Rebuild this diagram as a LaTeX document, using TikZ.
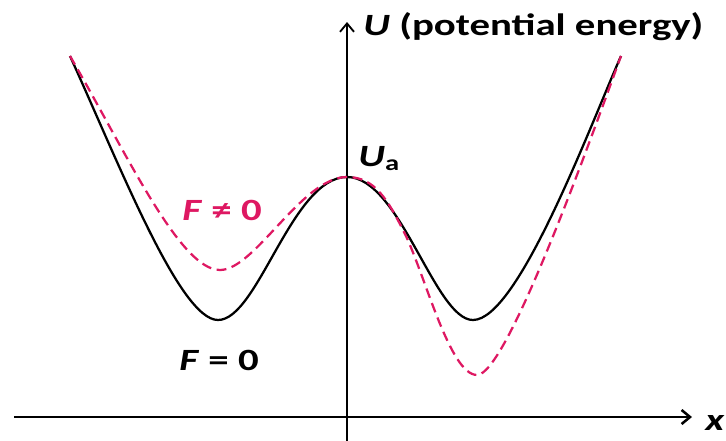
\documentclass[tikz,border=0pt]{standalone}
\usepackage{fontspec}
\setmainfont{Carlito}
\usepackage{tikz}
\usetikzlibrary{arrows.meta}
\definecolor{FRed}{RGB}{222,24,98}

\begin{document}
\begin{tikzpicture}[x={(0.025cm,0)}, y={(0,-0.025cm)},
      lbl/.style={font=\fontsize{22}{26}\selectfont\bfseries, inner sep=0pt, xscale=1.32},
      axis/.style={-{Straight Barb[length=6pt, width=10pt]}, line width=1.8pt},
      curve/.style={line width=1.6pt}
    ]
    \useasboundingbox (0,0) rectangle (726,441);

    % axes
    \coordinate (xs) at (14,417);
    \coordinate (xe) at (692,417);
    \coordinate (ys) at (347,441);
    \coordinate (ye) at (347,22);
    \draw[axis] (xs) -- (xe);
    \draw[axis, line width=1.3pt] (ys) -- (ye);

    % end points and tops of both wells
    \coordinate (lend) at (70,56);
    \coordinate (rend) at (621,56);
    \coordinate (top)  at (347,177);

    % F = 0
    \draw[curve] (lend) .. controls (120,166) and (180,320) .. (218,320)
      .. controls (258,320) and (292,177) .. (top)
      .. controls (400,177) and (435,320) .. (473,320)
      .. controls (518,320) and (590,126) .. (rend);

    % F not 0
    \draw[curve, FRed, dash pattern=on 7pt off 4pt] (lend)
      .. controls (127,154) and (180,270) .. (220,270)
      .. controls (255,270) and (302,177) .. (top)
      .. controls (375,177) and (388,200) .. (405,234)
      .. controls (425,275) and (450,375) .. (477,375)
      .. controls (507,375) and (592,135) .. (rend);

    \node[lbl, anchor=base west] (ulab) at (363,35) {\textit{U} (potential energy)};
    \node[lbl, anchor=base west] (xlab) at (705,430) {\textit{x}};
    \node[lbl, anchor=base west] (ua)   at (358,166) {\textit{U}\textsubscript{a}};
    \node[lbl, anchor=base west, text=FRed] (fne) at (182,220) {\textit{F} ≠ 0};
    \node[lbl, anchor=base west] (feq)  at (179,370) {\textit{F} = 0};
  \end{tikzpicture}
\end{document}
